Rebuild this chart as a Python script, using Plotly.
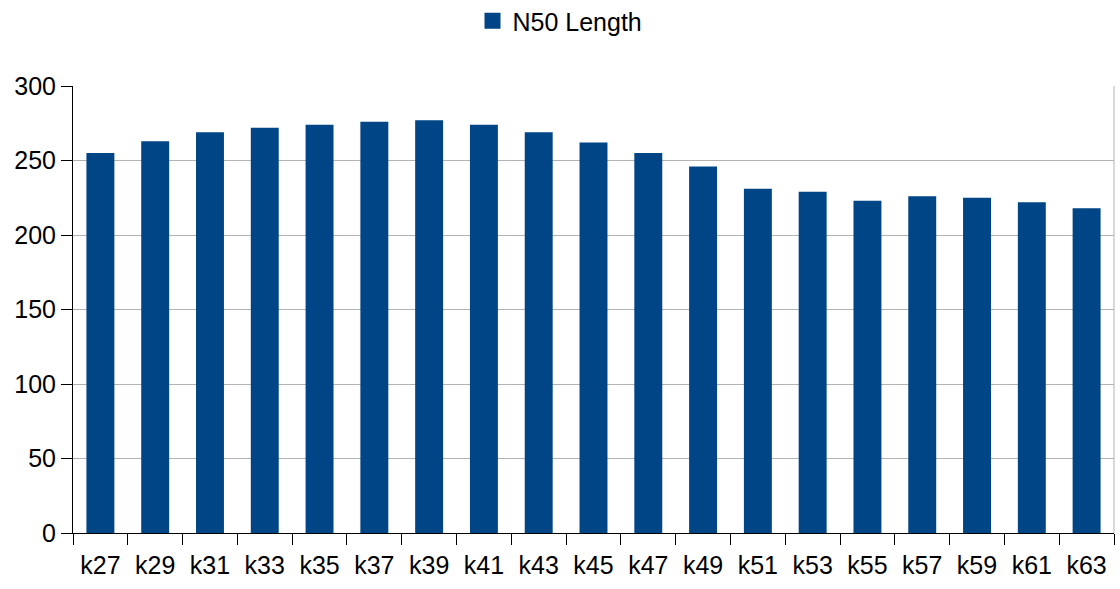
import plotly.graph_objects as go

# N50 length per k-mer size
kmers = ["k27", "k29", "k31", "k33", "k35", "k37", "k39", "k41", "k43", "k45",
         "k47", "k49", "k51", "k53", "k55", "k57", "k59", "k61", "k63"]
n50 = [255, 263, 269, 272, 274, 276, 277, 274, 269, 262,
       255, 246, 231, 229, 223, 226, 225, 222, 218]
series_name = "N50 Length"
y_ticks = [0, 50, 100, 150, 200, 250, 300]

bar_color = "#004586"
font = dict(family="Liberation Sans, Arial, sans-serif", size=25, color="#000000")

fig = go.Figure()
fig.add_trace(
    go.Bar(x=kmers, y=n50, name=series_name, showlegend=False,
           marker=dict(color=bar_color, line=dict(width=0)))
)
# legend entry with a larger square key
fig.add_trace(
    go.Scatter(x=[None], y=[None], mode="markers", name=series_name,
               marker=dict(symbol="square", size=16, color=bar_color))
)

fig.update_layout(
    width=1120,
    height=589,
    margin=dict(l=73, r=6, t=86, b=56),
    paper_bgcolor="white",
    plot_bgcolor="white",
    font=font,
    bargap=0.49,
    showlegend=True,
    legend=dict(
        orientation="h",
        x=0.5,
        xanchor="center",
        xref="container",
        y=1 - 21 / 589,
        yanchor="middle",
        yref="container",
        font=font,
        itemwidth=30,
    ),
    xaxis=dict(
        type="category",
        showline=True,
        linecolor="#000000",
        linewidth=1,
        ticks="outside",
        tickson="boundaries",
        ticklen=11,
        tickcolor="#000000",
        showgrid=False,
        tickfont=font,
        ticklabelstandoff=10,
    ),
    yaxis=dict(
        range=[0, 300],
        tickvals=y_ticks,
        showline=True,
        linecolor="#000000",
        linewidth=1,
        ticks="outside",
        ticklen=11,
        tickcolor="#000000",
        showgrid=True,
        gridcolor="#b3b3b3",
        gridwidth=1,
        zeroline=False,
        tickfont=font,
    ),
    shapes=[
        dict(type="line", xref="paper", yref="paper", x0=1, x1=1, y0=0, y1=1,
             line=dict(color="#b3b3b3", width=1)),
    ],
)

fig.write_html("out.html")
